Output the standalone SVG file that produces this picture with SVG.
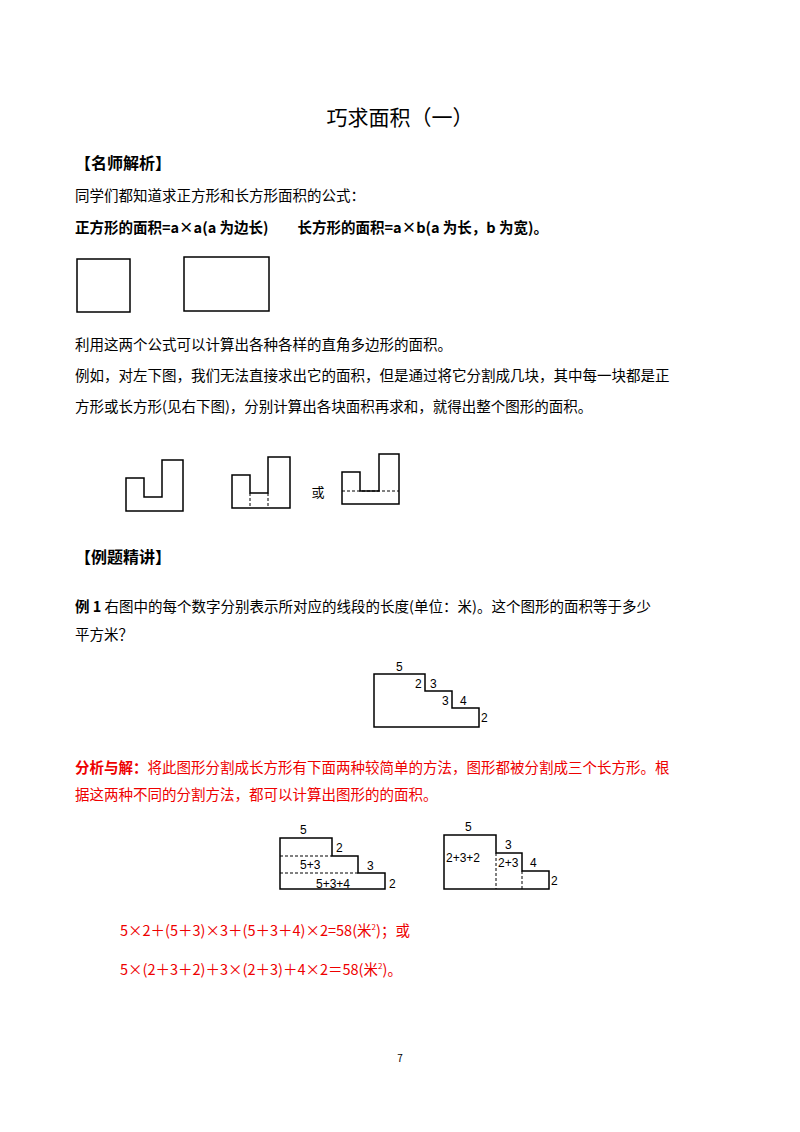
<svg xmlns="http://www.w3.org/2000/svg" width="800" height="1132" viewBox="0 0 800 1132">
<style>
text{font-family:"Noto Sans CJK SC","Liberation Sans",sans-serif;fill:#000}
.b{font-weight:bold}
.r{fill:#e00}
.s{fill:none;stroke:#000;stroke-width:1.5}
.d{fill:none;stroke:#000;stroke-width:1;stroke-dasharray:3,2}
.n{font-family:"Liberation Sans",sans-serif;font-size:12px}
</style>
<rect width="800" height="1132" fill="#fff"/>
<text x="400" y="125" font-size="21" text-anchor="middle">巧求面积（一）</text>
<text x="75" y="169" font-size="16" class="b">【名师解析】</text>
<text x="75" y="201" font-size="14.5">同学们都知道求正方形和长方形面积的公式：</text>
<text x="75" y="233" font-size="14.5" class="b">正方形的面积=a×a(a 为边长)　　长方形的面积=a×b(a 为长，b 为宽)。</text>
<g id="square"><rect x="77" y="259" width="53" height="53" class="s"/></g>
<g id="rectangle"><rect x="184" y="257" width="85" height="54" class="s"/></g>
<text x="75" y="350" font-size="14.5">利用这两个公式可以计算出各种各样的直角多边形的面积。</text>
<text x="75" y="381" font-size="14.5">例如，对左下图，我们无法直接求出它的面积，但是通过将它分割成几块，其中每一块都是正</text>
<text x="75" y="412" font-size="14.5">方形或长方形(见右下图)，分别计算出各块面积再求和，就得出整个图形的面积。</text>
<g id="shapeA"><path d="M126 478H144V497H162V460H183V511H126Z" class="s"/></g>
<g id="shapeB"><path d="M232 475H250V493H268V457H290V508H232Z" class="s"/><path d="M250 493V508M268 493V508" class="d"/></g>
<text x="318" y="497" font-size="13" text-anchor="middle">或</text>
<g id="shapeC"><path d="M342 472H360V491H379V454H399V504H342Z" class="s"/><path d="M342 491H399" class="d"/></g>
<text x="75" y="563" font-size="16" class="b">【例题精讲】</text>
<text x="75" y="612" font-size="14.5"><tspan class="b">例 1</tspan> 右图中的每个数字分别表示所对应的线段的长度(单位：米)。这个图形的面积等于多少</text>
<text x="75" y="640" font-size="14.5">平方米？</text>
<g id="ex1"><path d="M374 674H425V691H452V708H479V727H374Z" class="s" stroke-width="1.2"/>
<text x="396" y="671" class="n">5</text><text x="415" y="688" class="n">2</text><text x="430" y="688" class="n">3</text>
<text x="442" y="705" class="n">3</text><text x="460" y="705" class="n">4</text><text x="481" y="722" class="n">2</text></g>
<text x="75" y="773" font-size="14.5" class="r"><tspan class="b">分析与解：</tspan>将此图形分割成长方形有下面两种较简单的方法，图形都被分割成三个长方形。根</text>
<text x="75" y="800" font-size="14.5" class="r">据这两种不同的分割方法，都可以计算出图形的的面积。</text>
<g id="split1"><path d="M280 838H332V856H358V873H385V889H280Z" class="s" stroke-width="1.2"/>
<path d="M280 856H332M280 873H358" class="d"/>
<text x="300" y="834" class="n">5</text><text x="336" y="852" class="n">2</text><text x="300" y="869" class="n">5+3</text>
<text x="367" y="870" class="n">3</text><text x="316" y="888" class="n">5+3+4</text><text x="389" y="888" class="n">2</text></g>
<g id="split2"><path d="M444 835H496V853H522V871H549V889H444Z" class="s" stroke-width="1.2"/>
<path d="M496 853V889M522 871V889" class="d"/>
<text x="465" y="831" class="n">5</text><text x="446" y="862" class="n">2+3+2</text><text x="505" y="849" class="n">3</text>
<text x="498" y="867" class="n">2+3</text><text x="530" y="867" class="n">4</text><text x="551" y="885" class="n">2</text></g>
<text x="120" y="936" font-size="14.5" class="r">5×2＋(5＋3)×3＋(5＋3＋4)×2=58(米<tspan font-size="8" dy="-6">2</tspan><tspan dy="6">)；或</tspan></text>
<text x="120" y="975" font-size="14.5" class="r">5×(2＋3＋2)＋3×(2＋3)＋4×2＝58(米<tspan font-size="8" dy="-6">2</tspan><tspan dy="6">)。</tspan></text>
<text x="400" y="1062" font-size="10" text-anchor="middle" font-family="Liberation Sans,sans-serif">7</text>
</svg>
